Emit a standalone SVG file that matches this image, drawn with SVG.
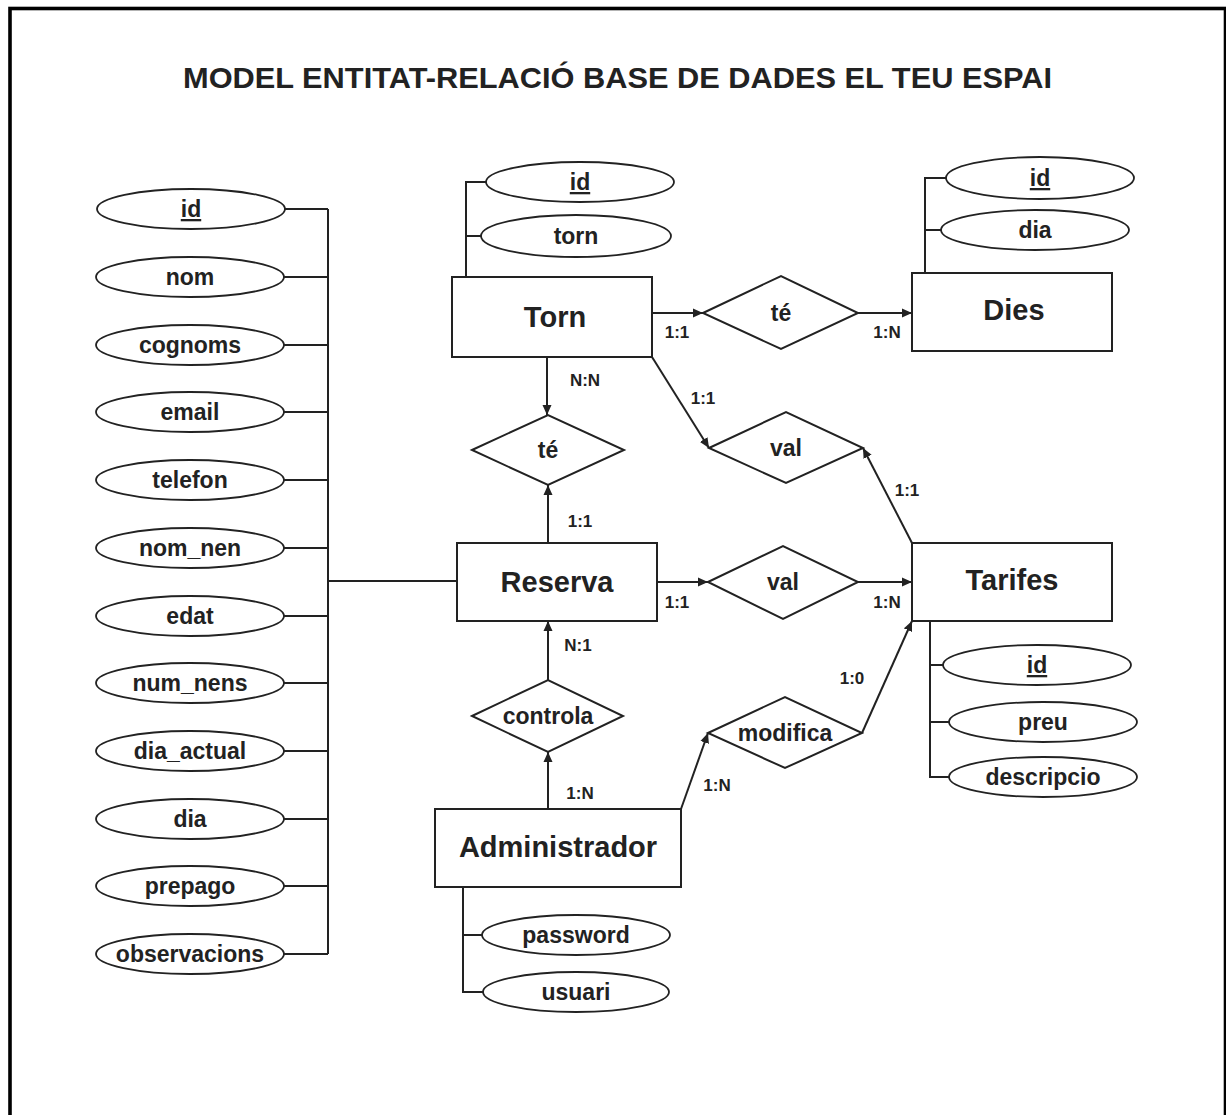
<svg xmlns="http://www.w3.org/2000/svg" width="1226" height="1115" viewBox="0 0 1226 1115">
<style>
text{font-family:"Liberation Sans",Arial,sans-serif;font-weight:bold;fill:#222;text-anchor:middle}
.attr{font-size:23px}
.ent{font-size:29px}
.rel{font-size:23px}
.card{font-size:17px}
.shape{fill:#fff;stroke:#222;stroke-width:2}
.ell{fill:#fff;stroke:#222;stroke-width:1.8}
.ln{fill:none;stroke:#222;stroke-width:2}
.ar{fill:none;stroke:#222;stroke-width:2;marker-end:url(#arr)}
</style>
<defs>
<marker id="arr" markerUnits="userSpaceOnUse" markerWidth="12" markerHeight="10" refX="10" refY="5" orient="auto">
<path d="M0,0.5 L10,5 L0,9.5 Z" fill="#222"/>
</marker>
</defs>
<rect x="0" y="0" width="1226" height="1115" fill="#fff"/>
<rect x="10" y="8.5" width="1215.5" height="1130" fill="none" stroke="#000" stroke-width="3.6"/>
<text x="617.5" y="88" font-size="30" textLength="869" lengthAdjust="spacingAndGlyphs">MODEL ENTITAT-RELACIÓ BASE DE DADES EL TEU ESPAI</text>

<g id="connectors">
<path class="ln" d="M328,209 L328,954 M285,209 H328 M284,277 H328 M284,345 H328 M284,412 H328 M284,480 H328 M284,548 H328 M284,616 H328 M284,683 H328 M284,751 H328 M284,819 H328 M284,886 H328 M284,954 H328 M328,581 H457"/>
<path class="ln" d="M466,277 V182 H486 M466,236 H481"/>
<path class="ln" d="M925,273 V178 H946 M925,230 H941"/>
<path class="ln" d="M930,621 V777 H949 M930,665 H943 M930,722 H949"/>
<path class="ln" d="M463,887 V992 H483 M463,935 H482"/>
<path class="ar" d="M652,313 H703"/>
<path class="ar" d="M858,313 H912"/>
<path class="ar" d="M547,357 V415"/>
<path class="ar" d="M548,543 V485"/>
<path class="ar" d="M652,357 L709,448"/>
<path class="ar" d="M912,543 L863,448"/>
<path class="ar" d="M657,582 H708"/>
<path class="ar" d="M858,582 H912"/>
<path class="ar" d="M548,680 V621"/>
<path class="ar" d="M548,809 V752"/>
<path class="ar" d="M681,809 L708,733"/>
<path class="ar" d="M862,733 L912,621"/>
<text class="card" x="677" y="338">1:1</text>
<text class="card" x="887" y="338">1:N</text>
<text class="card" x="585" y="386">N:N</text>
<text class="card" x="703" y="404">1:1</text>
<text class="card" x="907" y="496">1:1</text>
<text class="card" x="580" y="527">1:1</text>
<text class="card" x="677" y="608">1:1</text>
<text class="card" x="887" y="608">1:N</text>
<text class="card" x="578" y="651">N:1</text>
<text class="card" x="852" y="684">1:0</text>
<text class="card" x="717" y="791">1:N</text>
<text class="card" x="580" y="799">1:N</text>
</g>

<g id="reserva-attrs">
<g id="attr-r-id"><ellipse class="ell" cx="191" cy="209" rx="94" ry="20"/><text class="attr" x="191" y="217" text-decoration="underline">id</text></g>
<g id="attr-r-nom"><ellipse class="ell" cx="190" cy="277" rx="94" ry="20"/><text class="attr" x="190" y="285">nom</text></g>
<g id="attr-r-cognoms"><ellipse class="ell" cx="190" cy="345" rx="94" ry="20"/><text class="attr" x="190" y="353">cognoms</text></g>
<g id="attr-r-email"><ellipse class="ell" cx="190" cy="412" rx="94" ry="20"/><text class="attr" x="190" y="420">email</text></g>
<g id="attr-r-telefon"><ellipse class="ell" cx="190" cy="480" rx="94" ry="20"/><text class="attr" x="190" y="488">telefon</text></g>
<g id="attr-r-nom_nen"><ellipse class="ell" cx="190" cy="548" rx="94" ry="20"/><text class="attr" x="190" y="556">nom_nen</text></g>
<g id="attr-r-edat"><ellipse class="ell" cx="190" cy="616" rx="94" ry="20"/><text class="attr" x="190" y="624">edat</text></g>
<g id="attr-r-num_nens"><ellipse class="ell" cx="190" cy="683" rx="94" ry="20"/><text class="attr" x="190" y="691">num_nens</text></g>
<g id="attr-r-dia_actual"><ellipse class="ell" cx="190" cy="751" rx="94" ry="20"/><text class="attr" x="190" y="759">dia_actual</text></g>
<g id="attr-r-dia"><ellipse class="ell" cx="190" cy="819" rx="94" ry="20"/><text class="attr" x="190" y="827">dia</text></g>
<g id="attr-r-prepago"><ellipse class="ell" cx="190" cy="886" rx="94" ry="20"/><text class="attr" x="190" y="894">prepago</text></g>
<g id="attr-r-observacions"><ellipse class="ell" cx="190" cy="954" rx="94" ry="20"/><text class="attr" x="190" y="962">observacions</text></g>
</g>

<g id="torn-attrs">
<g id="attr-t-id"><ellipse class="ell" cx="580" cy="182" rx="94" ry="20"/><text class="attr" x="580" y="190" text-decoration="underline">id</text></g>
<g id="attr-t-torn"><ellipse class="ell" cx="576" cy="236" rx="95" ry="21"/><text class="attr" x="576" y="244">torn</text></g>
</g>
<g id="dies-attrs">
<g id="attr-d-id"><ellipse class="ell" cx="1040" cy="178" rx="94" ry="21"/><text class="attr" x="1040" y="186" text-decoration="underline">id</text></g>
<g id="attr-d-dia"><ellipse class="ell" cx="1035" cy="230" rx="94" ry="20"/><text class="attr" x="1035" y="238">dia</text></g>
</g>
<g id="tarifes-attrs">
<g id="attr-ta-id"><ellipse class="ell" cx="1037" cy="665" rx="94" ry="20"/><text class="attr" x="1037" y="673" text-decoration="underline">id</text></g>
<g id="attr-ta-preu"><ellipse class="ell" cx="1043" cy="722" rx="94" ry="20"/><text class="attr" x="1043" y="730">preu</text></g>
<g id="attr-ta-descripcio"><ellipse class="ell" cx="1043" cy="777" rx="94" ry="20"/><text class="attr" x="1043" y="785">descripcio</text></g>
</g>
<g id="admin-attrs">
<g id="attr-a-password"><ellipse class="ell" cx="576" cy="935" rx="94" ry="20"/><text class="attr" x="576" y="943">password</text></g>
<g id="attr-a-usuari"><ellipse class="ell" cx="576" cy="992" rx="93" ry="20"/><text class="attr" x="576" y="1000">usuari</text></g>
</g>

<g id="torn"><rect class="shape" x="452" y="277" width="200" height="80"/><text class="ent" x="555" y="327">Torn</text></g>
<g id="dies"><rect class="shape" x="912" y="273" width="200" height="78"/><text class="ent" x="1014" y="320">Dies</text></g>
<g id="reserva"><rect class="shape" x="457" y="543" width="200" height="78"/><text class="ent" x="557" y="592">Reserva</text></g>
<g id="tarifes"><rect class="shape" x="912" y="543" width="200" height="78"/><text class="ent" x="1012" y="590">Tarifes</text></g>
<g id="administrador"><rect class="shape" x="435" y="809" width="246" height="78"/><text class="ent" x="558" y="857">Administrador</text></g>

<g id="rel-te-dies"><path class="shape" d="M703,313 L781,276 L858,313 L781,349 Z"/><text class="rel" x="781" y="321">té</text></g>
<g id="rel-te-reserva"><path class="shape" d="M472,450 L548,415 L624,450 L548,485 Z"/><text class="rel" x="548" y="458">té</text></g>
<g id="rel-val-torn"><path class="shape" d="M709,448 L786,412 L863,448 L786,483 Z"/><text class="rel" x="786" y="456">val</text></g>
<g id="rel-val-reserva"><path class="shape" d="M708,582 L783,546 L858,582 L783,619 Z"/><text class="rel" x="783" y="590">val</text></g>
<g id="rel-controla"><path class="shape" d="M472,716 L548,680 L623,716 L548,752 Z"/><text class="rel" x="548" y="724">controla</text></g>
<g id="rel-modifica"><path class="shape" d="M708,733 L785,697 L862,733 L785,768 Z"/><text class="rel" x="785" y="741">modifica</text></g>
</svg>
